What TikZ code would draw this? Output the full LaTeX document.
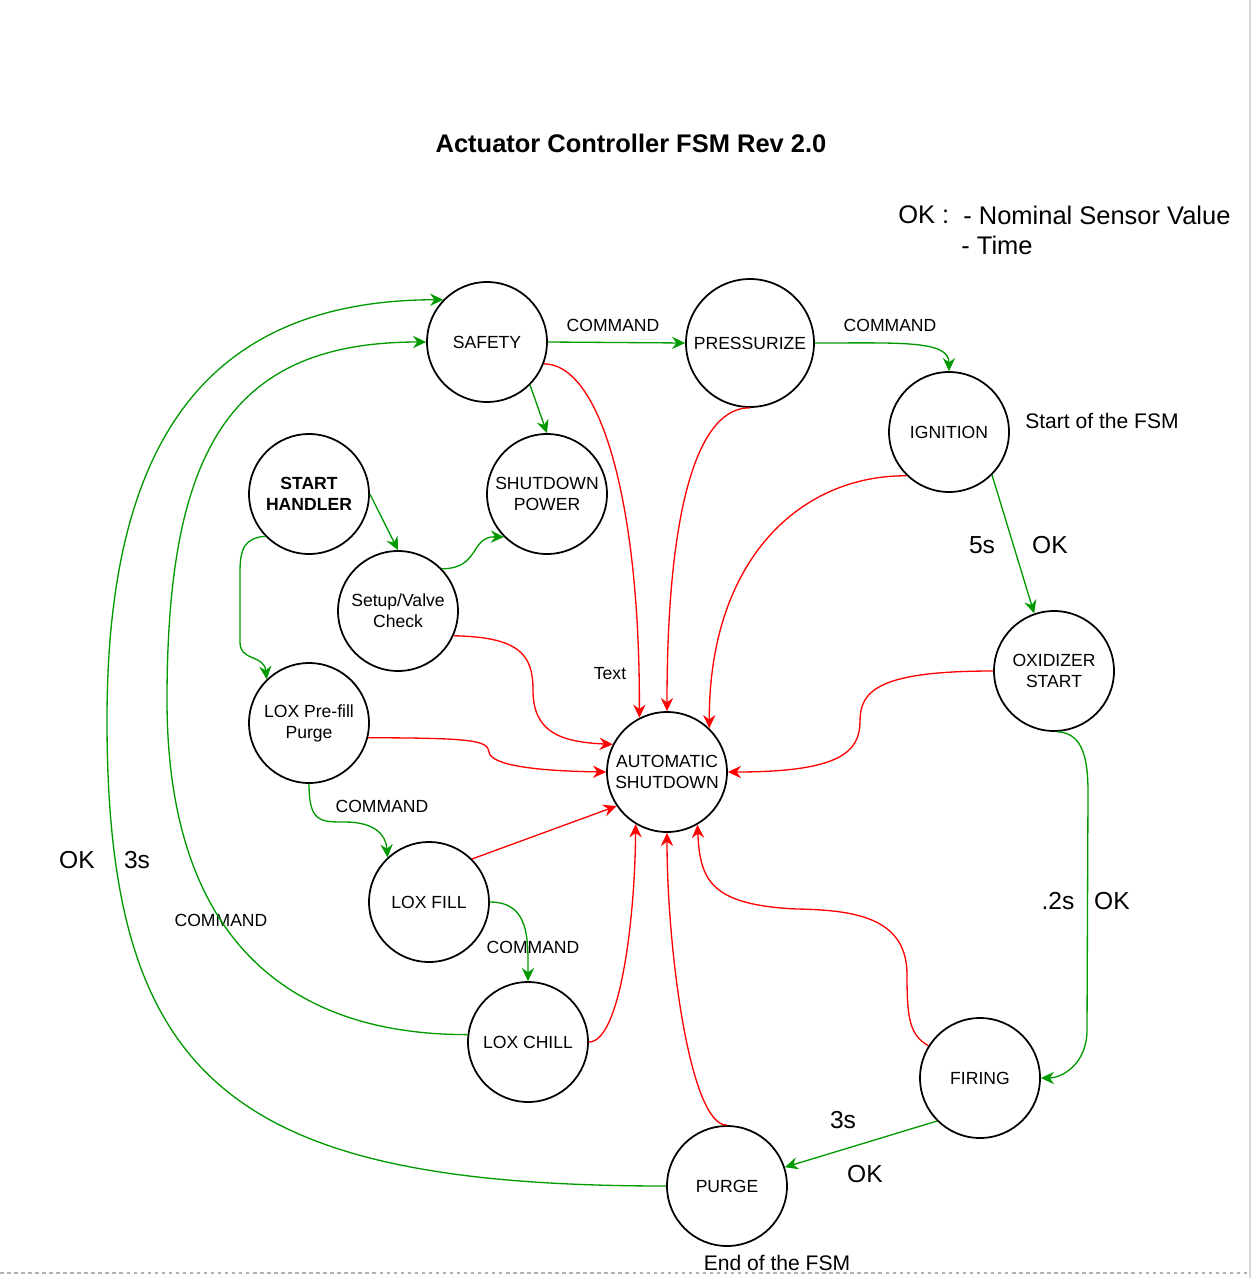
\documentclass[tikz,border=0pt]{standalone}
\usepackage{fontspec}
\setmainfont{Liberation Sans}
\usetikzlibrary{arrows.meta}
\definecolor{okgreen}{RGB}{0,153,0}
\definecolor{errred}{RGB}{255,0,0}

\begin{document}
\begin{tikzpicture}[x=0.02cm,y=-0.02cm,
    state/.style={draw, circle, line width=1pt, minimum size=2.4cm, inner sep=0pt,
      align=center, font=\fontsize{10}{12}\selectfont},
    go/.style={color=okgreen, line width=0.75pt,
      -{Stealth[length=7.5pt,width=7pt,inset=2.5pt]}},
    fail/.style={go, color=errred},
    lbl/.style={inner sep=0pt, font=\fontsize{10}{12}\selectfont},
    note/.style={inner sep=0pt, font=\fontsize{12}{14}\selectfont},
    big/.style={inner sep=0pt, font=\fontsize{14}{17}\selectfont}]
  \useasboundingbox (0,0) rectangle (1252,1278);
  \draw[black!15, line width=1.2pt] (1250,0) -- (1250,1278);
  \draw[black!30, line width=0.8pt, dash pattern=on 2pt off 2pt] (0,1273) -- (1250,1273);

  \node (ttl) at (631,143) [inner sep=0pt, font=\bfseries\fontsize{14.5}{17}\selectfont]
    {Actuator Controller FSM Rev 2.0};
  \node (okkey) at (898,215) [big, anchor=west, font=\fontsize{14.5}{17}\selectfont] {OK :};
  \node (nomval) at (963,215) [big, anchor=west, font=\fontsize{14.5}{17}\selectfont] {- Nominal Sensor Value};
  \node (timeval) at (961,245) [big, anchor=west, font=\fontsize{14.5}{17}\selectfont] {- Time};

  \node (SAFE) at (487,342) [state] {SAFETY};
  \node (PRESS) at (750,343) [state, minimum size=2.56cm] {PRESSURIZE};
  \node (IGN) at (949,432) [state] {IGNITION};
  \node (SH) at (309,494) [state, font=\bfseries\fontsize{10}{12}\selectfont] {START\\HANDLER};
  \node (SDP) at (547,494) [state] {SHUTDOWN\\POWER};
  \node (SVC) at (398,611) [state] {Setup/Valve\\Check};
  \node (OXS) at (1054,671) [state] {OXIDIZER\\START};
  \node (LPP) at (309,723) [state] {LOX Pre-fill\\Purge};
  \node (AS) at (667,772) [state] {AUTOMATIC\\SHUTDOWN};
  \node (LF) at (429,902) [state] {LOX FILL};
  \node (LC) at (528,1042) [state] {LOX CHILL};
  \node (FIR) at (980,1078) [state] {FIRING};
  \node (PRG) at (727,1186) [state] {PURGE};

  \node (cmdA) at (613,325) [lbl] {COMMAND};
  \node (cmdB) at (890,325) [lbl] {COMMAND};
  \node (cmdC) at (382,806) [lbl] {COMMAND};
  \node (cmdD) at (533,947) [lbl] {COMMAND};
  \node (cmdE) at (221,920) [lbl] {COMMAND};
  \node (txt) at (610,674) [lbl] {Text};
  \node (fsmstart) at (1102,421) [note] {Start of the FSM};
  \node (fsmend) at (777,1263) [note] {End of the FSM};
  \node (ignT) at (982,545) [big] {5s};
  \node (ignOK) at (1050,545) [big] {OK};
  \node (oxsT) at (1058,901) [big] {.2s};
  \node (oxsOK) at (1112,901) [big] {OK};
  \node (firT) at (843,1120) [big] {3s};
  \node (firOK) at (865,1174) [big] {OK};
  \node (prgOK) at (77,860) [big] {OK};
  \node (prgT) at (137,860) [big] {3s};

  \draw[go] (SAFE.east) -- (PRESS.west);
  \draw[go] (PRESS.east) .. controls (900,343) and (949,340) .. (IGN.north);
  \draw[go] (SAFE.-45) -- (SDP.north);
  \draw[go] (SH.east) -- (SVC.north);
  \draw[go] (SVC.44) .. controls (480,569) and (470,536) .. (SDP.225);
  \draw[go] (SH.224) .. controls (245,538) and (240,548) .. (240,572) -- (240,642)
    .. controls (240,662) and (264,654) .. (LPP.134);
  \draw[go] (IGN.-45) -- (OXS.109);
  \draw[go] (OXS.-87) .. controls (1080,733) and (1088,752) .. (1088,792) -- (1087,1030)
    .. controls (1087,1064) and (1062,1078) .. (FIR.east);
  \draw[go] (FIR.225) -- (PRG.18);
  \draw[go] (PRG.west) .. controls (230,1186) and (107,1080) .. (107,720)
    .. controls (107,450) and (200,300) .. (SAFE.136);
  \draw[go] (LC.173) .. controls (280,1035) and (167,930) .. (167,700)
    .. controls (167,450) and (230,342) .. (SAFE.west);
  \draw[go] (LPP.south) .. controls (309,822) and (320,822) .. (345,822)
    .. controls (375,822) and (386,835) .. (LF.133);
  \draw[go] (LF.east) .. controls (530,902) and (528,940) .. (LC.north);

  \draw[fail] (SAFE.-21) .. controls (600,364) and (640,500) .. (AS.117);
  \draw[fail] (PRESS.south) .. controls (700,407) and (667,500) .. (AS.north);
  \draw[fail] (IGN.226) .. controls (800,475) and (709,560) .. (AS.46);
  \draw[fail] (SVC.-24) .. controls (520,637) and (533,655) .. (533,690)
    .. controls (533,732) and (560,742) .. (AS.153);
  \draw[fail] (LPP.-14) .. controls (470,738) and (488,740) .. (489,752)
    .. controls (491,766) and (540,771) .. (AS.west);
  \draw[fail] (OXS.west) .. controls (880,671) and (860,690) .. (860,721)
    .. controls (860,752) and (840,772) .. (AS.east);
  \draw[fail] (LF.45) -- (AS.214);
  \draw[fail] (LC.east) .. controls (620,1042) and (635,920) .. (AS.239);
  \draw[fail] (PRG.north) .. controls (690,1126) and (667,950) .. (AS.south);
  \draw[fail] (FIR.148) .. controls (910,1035) and (907,1020) .. (907,975)
    .. controls (907,920) and (860,910) .. (797,909)
    .. controls (710,905) and (700,880) .. (AS.-60);
\end{tikzpicture}
\end{document}
